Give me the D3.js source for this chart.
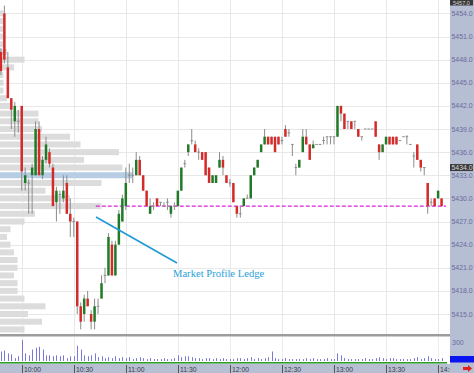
<!DOCTYPE html>
<html><head><meta charset="utf-8">
<script src="https://cdn.jsdelivr.net/npm/d3@7"></script>
<style>body{margin:0;background:#fff;overflow:hidden}svg{display:block}</style>
</head><body>
<svg id="c" width="474" height="373"></svg>
<script>
// ---------- DATA ----------
const sessionStart = "09:48";      // first 2-minute bar
const barMinutes = 2;
const openP  = [5449,5454,5447,5443,5440,5440,5442,5432,5432,5433,5433,5439,5433,5435,5436,5434,5429.5,5430.5,5430,5432,5428,5427,5427,5416,5415,5417,5415,5414,5416,5417,5420,5420,5424,5420,5424,5427,5429,5433,5433,5433,5435,5433,5431,5428,5429,5430,5429.5,5429,5429.5,5428,5429,5429,5431,5434.5,5436,5437.5,5437,5436,5436,5436,5434,5432,5432,5434,5435,5433,5432,5432,5429,5428,5429,5430,5430,5433,5434,5436,5437,5438,5438,5438,5438,5437.5,5439,5438.5,5437,5434,5434,5436,5438,5437,5436.5,5437,5437,5437.5,5438,5438,5438,5438,5442,5441,5440,5440,5440,5439,5438,5439,5439,5439,5440,5437,5436,5437,5438,5438,5438,5437.5,5438,5438,5437,5435.5,5437,5435,5434,5432,5429.5,5430,5430,5430];
const highP  = [5449.5,5455,5449,5443,5442.5,5441.5,5442,5434,5432.5,5434.5,5440,5440,5435.5,5438,5436.5,5434.5,5431.5,5431,5433,5433,5430,5427.5,5427,5416.5,5417.5,5418,5415.5,5417,5417,5420,5421,5425.5,5424.5,5424.5,5428.5,5430.5,5434,5434.5,5434,5436,5435.5,5433,5431,5430,5429.5,5430,5429.5,5429.5,5430,5429,5429.5,5431,5434,5435,5437,5439,5437.5,5436.5,5436,5436,5434,5433,5433,5436,5435.5,5433,5432.5,5432,5429,5429,5430,5430.5,5433,5434,5435,5437,5439,5438,5438,5438,5438,5438,5439.5,5439,5437,5434.5,5435,5439,5439,5437,5437.5,5437,5437,5438,5438,5438,5438,5442,5442,5441,5440,5440,5440,5439,5438,5439,5439,5439,5440,5437,5437,5438,5438,5438,5438,5437.5,5438,5438.2,5437,5436,5437,5435,5434,5432,5430,5430,5431,5430];
const lowP   = [5446,5447.5,5443,5439,5438,5438.5,5431,5431,5428,5428,5433,5433,5432.5,5434.5,5434,5429,5427,5428,5429.5,5428,5425,5425,5415,5413,5414,5416,5413,5413,5415,5417,5419,5420,5420,5420,5424,5427,5428.5,5432,5432,5433,5433,5431,5429,5428,5428.5,5429,5429,5429,5428.5,5427.5,5428.5,5429,5431,5434,5435.5,5437,5436,5435,5435,5433,5432,5432,5432,5434,5433,5432,5431.5,5429.5,5427.5,5427.5,5429,5430,5430,5433,5434,5436,5437,5437,5437,5436,5437,5437,5438,5438,5435.5,5433,5434,5436,5437,5435,5436.5,5437,5437,5437,5437,5437,5437,5438,5440,5439,5439,5439,5439,5438,5437.5,5439,5439,5439,5438,5435,5436,5437,5437,5437,5437,5437.5,5438,5437,5437,5434,5435,5433.5,5433,5428,5429,5429,5430,5429];
const closeP = [5446.5,5448,5443,5441.5,5442,5440,5433.5,5433,5432,5434,5439,5433,5435,5437,5434.5,5429,5431,5430.5,5431,5428,5427,5427,5416,5414,5417,5416,5414,5416,5416,5419,5420,5425,5420,5424,5428,5430,5432,5433,5433,5435,5433,5431,5429,5429,5429,5429,5429.5,5429,5429.5,5429,5429,5431,5434,5434.5,5437,5437.5,5436,5436,5435,5433,5432,5433,5433,5435,5434,5432,5432,5429.5,5428,5428,5430,5430,5433,5434,5435,5437,5438,5437,5437,5436,5437,5437.5,5438,5438.5,5437,5434,5435,5438,5437,5435,5437,5437,5437,5437.5,5438,5438,5438,5442,5441,5439,5440,5439,5440,5438,5438,5439,5439,5439,5438,5436,5437,5438,5437,5437,5437,5437.5,5438,5438,5437,5435.5,5435,5434,5434,5429,5429.5,5429,5431,5429];
const volume = [150,165,120,105,45,75,330,120,90,180,210,225,180,90,90,75,90,75,90,45,75,75,240,180,90,75,90,120,60,75,45,60,45,75,45,60,45,60,30,45,60,45,30,45,30,30,30,45,30,30,45,90,60,75,75,60,45,45,30,45,45,30,45,30,45,30,30,30,45,45,30,45,60,30,45,30,45,60,150,45,30,30,45,30,30,30,30,30,45,30,45,30,30,30,45,30,30,120,90,45,30,30,30,30,30,45,30,30,45,60,45,30,45,45,30,30,30,30,30,45,60,30,45,75,45,30,30,45];
const profilePrices = [5413,5414,5415,5416,5417,5418,5419,5420,5421,5422,5423,5424,5425,5426,5427,5428,5429,5430,5431,5432,5433,5434,5435,5436,5437,5438,5439,5440,5441,5442,5443,5444,5445,5446,5447,5448,5449,5450,5451,5452,5453,5454];
const profileCounts = [7,12,8,13,7,5,5,4,5,5,4,3,2,3,7,10,29,20,13,29,38,35,24,34,23,20,12,11,11,3,2,1,1,1,4,7,2,1,1,1,1,1];
const pocPrice = 5433;
const priceTicks = [5415,5418,5421,5424,5427,5430,5433,5436,5439,5442,5445,5448,5451,5454];
const timeTicks = ["10:00","10:30","11:00","11:30","12:00","12:30","13:00","13:30","14:00"];
const ledgePrice = 5429;
const markerPrice = 5434;
const topMarkerPrice = 5457;
const volumeTick = 300;
const noteText = "Market Profile Ledge";

// ---------- SETUP ----------
const W = 474, H = 373, plotR = 450, priceB = 334, volT = 337, volB = 361, axisT = 364;
const svg = d3.select("#c");
const parse = d3.timeParse("%H:%M");
const t0 = parse(sessionStart);
const times = openP.map((_, i) => d3.timeMinute.offset(t0, i * barMinutes));
const x = d3.scaleTime().domain([parse("09:48"), parse("14:00")]).range([0.9, 438.1]);
const y = d3.scaleLinear().domain([5415, 5454]).range([314, 13.4]);
const yv = d3.scaleLinear().domain([0, volumeTick]).range([volB, 342]);
const xp = d3.scaleLinear().domain([0, 1]).range([0, 3.5]);

svg.append("rect").attr("width", W).attr("height", H).attr("fill", "#fff");
const defs = svg.append("defs");
defs.append("clipPath").attr("id", "pc").append("rect").attr("width", plotR).attr("height", priceB);
defs.append("clipPath").attr("id", "ac").append("rect").attr("x", 0).attr("y", axisT).attr("width", plotR).attr("height", H - axisT);

const pp = svg.append("g").attr("clip-path", "url(#pc)");
// grid
pp.selectAll("line.h").data(priceTicks).join("line")
  .attr("x1", 0).attr("x2", plotR).attr("y1", d => Math.round(y(d)) + 0.5).attr("y2", d => Math.round(y(d)) + 0.5)
  .attr("stroke", "#e8e8e8");
const tickTimes = timeTicks.map(parse);
pp.selectAll("line.v").data(tickTimes).join("line")
  .attr("y1", 0).attr("y2", priceB).attr("x1", d => Math.round(x(d)) + 0.5).attr("x2", d => Math.round(x(d)) + 0.5)
  .attr("stroke", "#e8e8e8");

// profile
pp.selectAll("rect.pf").data(profilePrices).join("rect")
  .attr("x", 0).attr("y", d => y(d) - 3).attr("height", 6)
  .attr("width", (d, i) => xp(profileCounts[i]))
  .attr("fill", d => d === pocPrice ? "#b7cde4" : "#dcdcdc");

// ledge line
pp.append("line").attr("x1", x(parse("10:30")) + 22).attr("x2", 446)
  .attr("y1", y(ledgePrice)).attr("y2", y(ledgePrice))
  .attr("stroke", "#dc22dc").attr("stroke-width", 1.2).attr("stroke-dasharray", "4,2");

// candles
const bars = pp.append("g");
times.forEach((t, i) => {
  const cx = x(t), o = openP[i], c = closeP[i];
  const g = bars.append("g");
  g.append("line").attr("x1", cx).attr("x2", cx).attr("y1", y(highP[i])).attr("y2", y(lowP[i]))
    .attr("stroke", "#8c8c8c").attr("stroke-width", 1);
  if (o === c) {
    g.append("line").attr("x1", cx - 1.3).attr("x2", cx + 1.3).attr("y1", y(o)).attr("y2", y(o))
      .attr("stroke", "#8c8c8c").attr("stroke-width", 1);
  } else {
    g.append("rect").attr("x", cx - 1.25).attr("width", 2.5)
      .attr("y", y(Math.max(o, c))).attr("height", Math.max(1, Math.abs(y(o) - y(c))))
      .attr("fill", c > o ? "#217a28" : "#d42a2a");
  }
});

// annotation
pp.append("line").attr("x1", 96).attr("y1", 217).attr("x2", 177).attr("y2", 263)
  .attr("stroke", "#1f9ad6").attr("stroke-width", 1.6);
pp.append("text").attr("x", 173).attr("y", 276.5).text(noteText)
  .attr("font-family", "Liberation Serif").attr("font-size", 10.6).attr("fill", "#2a9fd8");

// separator
svg.append("rect").attr("x", 0).attr("y", priceB).attr("width", plotR).attr("height", 2.5).attr("fill", "#9c9c9c");

// volume
const vg = svg.append("g");
vg.selectAll("line.vg").data(tickTimes).join("line")
  .attr("y1", volT).attr("y2", volB + 2).attr("x1", d => Math.round(x(d)) + 0.5).attr("x2", d => Math.round(x(d)) + 0.5)
  .attr("stroke", "#ececec");
vg.selectAll("line.vb").data(volume).join("line")
  .attr("x1", (d, i) => Math.round(x(times[i])) + 0.5).attr("x2", (d, i) => Math.round(x(times[i])) + 0.5)
  .attr("y1", volB).attr("y2", d => yv(d))
  .attr("stroke", "#7a78d6").attr("stroke-width", 1);
svg.append("rect").attr("x", 0).attr("y", 362).attr("width", 447).attr("height", 1.6).attr("fill", "#2c9a2c");

// bottom time axis bar
svg.append("rect").attr("x", 0).attr("y", axisT).attr("width", plotR).attr("height", H - axisT).attr("fill", "#b8bfd2");
const ag = svg.append("g").attr("clip-path", "url(#ac)");
tickTimes.forEach((t, i) => {
  const tx = Math.round(x(t)) + 0.5;
  ag.append("line").attr("x1", tx).attr("x2", tx).attr("y1", axisT + 1).attr("y2", H).attr("stroke", "#555");
  ag.append("text").attr("x", tx + 1.5).attr("y", 371.5).text(timeTicks[i])
    .attr("font-family", "Liberation Sans").attr("font-size", 6.8).attr("fill", "#3a3a50");
});

// right axis panel
svg.append("rect").attr("x", plotR).attr("y", 0).attr("width", W - plotR).attr("height", H).attr("fill", "#b6bed3");
svg.selectAll("text.pl").data(priceTicks).join("text")
  .attr("x", 451.5).attr("y", d => y(d) + 2.5).text(d => d.toFixed(1))
  .attr("font-family", "Liberation Sans").attr("font-size", 6.9).attr("fill", "#6a6c9c");
// current-price marker
svg.append("rect").attr("x", 450).attr("y", y(markerPrice) - 3.5).attr("width", 23).attr("height", 7).attr("fill", "#3a3a3a");
svg.append("text").attr("x", 451.5).attr("y", y(markerPrice) + 2.5).text(markerPrice.toFixed(1))
  .attr("font-family", "Liberation Sans").attr("font-size", 6.9).attr("fill", "#d8d8d8");
// top marker (at the very top edge)
svg.append("rect").attr("x", 450).attr("y", 0).attr("width", 23).attr("height", 5.5).attr("fill", "#3a3a3a");
svg.append("text").attr("x", 453).attr("y", 5).text(topMarkerPrice.toFixed(1))
  .attr("font-family", "Liberation Sans").attr("font-size", 5.5).attr("fill", "#cfcfcf");
svg.append("text").attr("x", 452).attr("y", yv(volumeTick) + 2.5).text(volumeTick)
  .attr("font-family", "Liberation Sans").attr("font-size", 7).attr("fill", "#6a6c9c");
svg.append("rect").attr("x", 450).attr("y", 356).attr("width", 24).attr("height", 6.5).attr("fill", "#0a14f0");
svg.append("path").attr("d", "M463,367 h5 v-2 l4,3.5 l-4,3.5 v-2 h-5 z").attr("fill", "#e02020");
</script>
</body></html>
